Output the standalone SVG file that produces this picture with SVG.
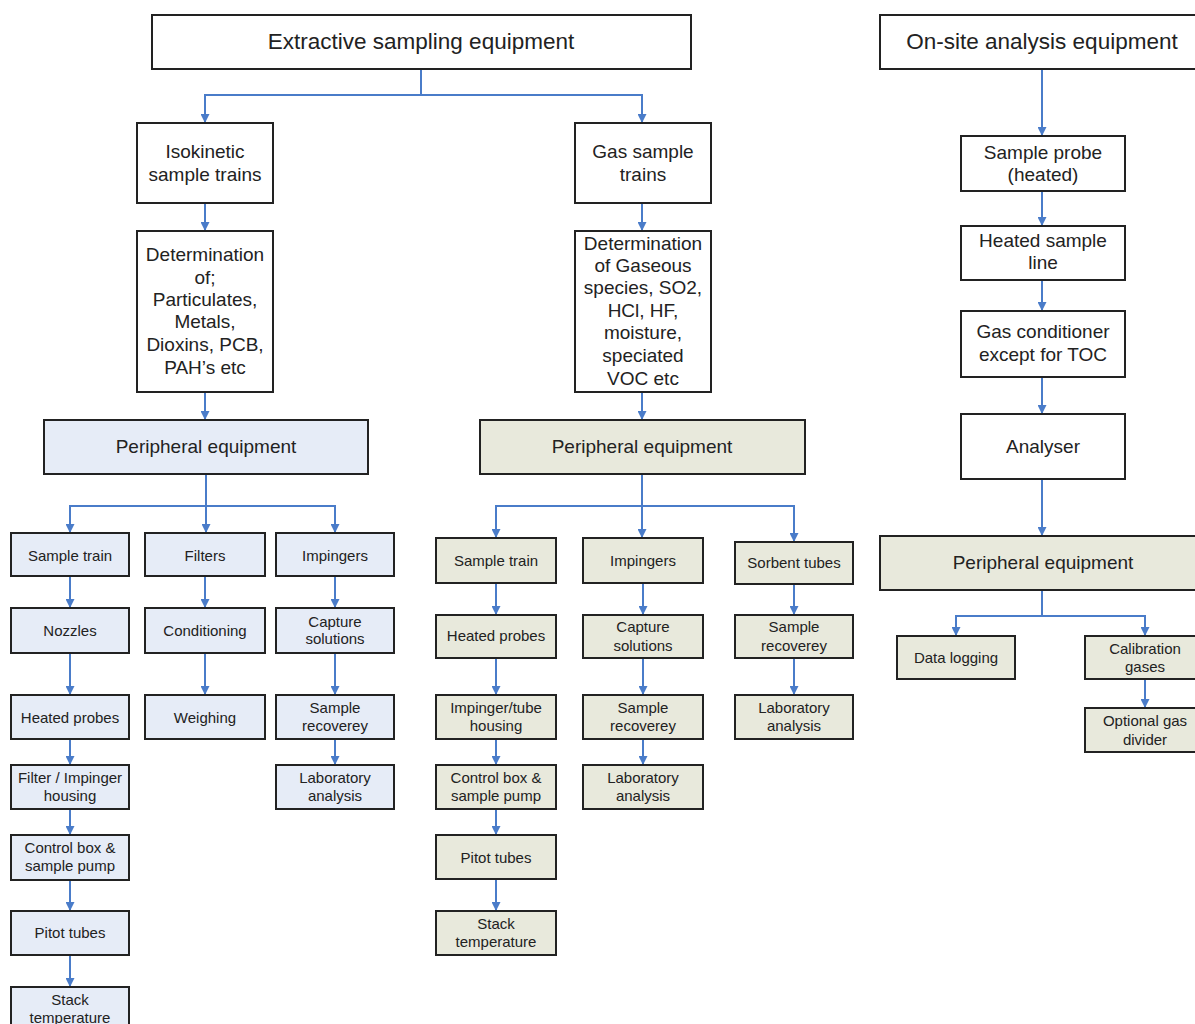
<svg xmlns="http://www.w3.org/2000/svg" width="1195" height="1024" viewBox="0 0 1195 1024">
<defs>
<marker id="arr" viewBox="0 0 10 10" markerWidth="9" markerHeight="9" markerUnits="userSpaceOnUse" refX="10" refY="5" orient="auto">
<path d="M0,0 L10,5 L0,10 z" fill="#4a7cc9"/>
</marker>
</defs>
<style>
rect{stroke:#222;stroke-width:2}
.w{fill:#fff}
.b{fill:#e6ecf7}
.k{fill:#e8e9dc}
text{font-family:"Liberation Sans",Arial,sans-serif;fill:#222;text-anchor:middle;dominant-baseline:central}
.t1{font-size:22.5px}
.t2{font-size:19px}
.t3{font-size:15px}
#connectors path{fill:none;stroke:#4a7cc9;stroke-width:2}
</style>

<g id="connectors">
<path d="M421,69 V95 H205 V123" marker-end="url(#arr)"/>
<path d="M421,95 H642 V123" marker-end="url(#arr)"/>
<path d="M205,203 V231" marker-end="url(#arr)"/>
<path d="M205,392 V420" marker-end="url(#arr)"/>
<path d="M642,203 V231" marker-end="url(#arr)"/>
<path d="M642,392 V420" marker-end="url(#arr)"/>
<path d="M206,474 V533" marker-end="url(#arr)"/>
<path d="M206,506 H70 V533" marker-end="url(#arr)"/>
<path d="M206,506 H335 V533" marker-end="url(#arr)"/>
<path d="M70,576 V608" marker-end="url(#arr)"/>
<path d="M70,653 V695" marker-end="url(#arr)"/>
<path d="M70,739 V765" marker-end="url(#arr)"/>
<path d="M70,809 V835" marker-end="url(#arr)"/>
<path d="M70,880 V911" marker-end="url(#arr)"/>
<path d="M70,955 V987" marker-end="url(#arr)"/>
<path d="M205,576 V608" marker-end="url(#arr)"/>
<path d="M205,653 V695" marker-end="url(#arr)"/>
<path d="M335,576 V608" marker-end="url(#arr)"/>
<path d="M335,653 V695" marker-end="url(#arr)"/>
<path d="M335,739 V765" marker-end="url(#arr)"/>
<path d="M642,474 V538" marker-end="url(#arr)"/>
<path d="M642,506 H496 V538" marker-end="url(#arr)"/>
<path d="M642,506 H794 V542" marker-end="url(#arr)"/>
<path d="M496,583 V615" marker-end="url(#arr)"/>
<path d="M496,658 V695" marker-end="url(#arr)"/>
<path d="M496,739 V765" marker-end="url(#arr)"/>
<path d="M496,809 V835" marker-end="url(#arr)"/>
<path d="M496,879 V911" marker-end="url(#arr)"/>
<path d="M643,583 V615" marker-end="url(#arr)"/>
<path d="M643,658 V695" marker-end="url(#arr)"/>
<path d="M643,739 V765" marker-end="url(#arr)"/>
<path d="M794,584 V615" marker-end="url(#arr)"/>
<path d="M794,658 V695" marker-end="url(#arr)"/>
<path d="M1042,69 V136" marker-end="url(#arr)"/>
<path d="M1042,191 V226" marker-end="url(#arr)"/>
<path d="M1042,280 V311" marker-end="url(#arr)"/>
<path d="M1042,377 V414" marker-end="url(#arr)"/>
<path d="M1042,479 V536" marker-end="url(#arr)"/>
<path d="M1042,590 V616 H956 V636" marker-end="url(#arr)"/>
<path d="M1042,616 H1145 V636" marker-end="url(#arr)"/>
<path d="M1145,679 V708" marker-end="url(#arr)"/>
</g>

<g id="n-extractive"><rect class="w" x="152" y="15" width="539" height="54"/><text class="t1" x="421" y="41">Extractive sampling equipment</text></g>
<g id="n-onsite"><rect class="w" x="880" y="15" width="330" height="54"/><text class="t1" x="1042" y="41">On-site analysis equipment</text></g>

<g id="n-isokinetic"><rect class="w" x="137" y="123" width="136" height="80"/><text class="t2" x="205" y="151">Isokinetic</text><text class="t2" x="205" y="174">sample trains</text></g>
<g id="n-det1"><rect class="w" x="137" y="231" width="136" height="161"/>
<text class="t2" x="205" y="254">Determination</text><text class="t2" x="205" y="277">of;</text><text class="t2" x="205" y="299">Particulates,</text><text class="t2" x="205" y="321">Metals,</text><text class="t2" x="205" y="344">Dioxins, PCB,</text><text class="t2" x="205" y="367">PAH’s etc</text></g>
<g id="n-gastrains"><rect class="w" x="575" y="123" width="136" height="80"/><text class="t2" x="643" y="151">Gas sample</text><text class="t2" x="643" y="174">trains</text></g>
<g id="n-det2"><rect class="w" x="575" y="231" width="136" height="161"/>
<text class="t2" x="643" y="243">Determination</text><text class="t2" x="643" y="265">of Gaseous</text><text class="t2" x="643" y="287">species, SO2,</text><text class="t2" x="643" y="310">HCl, HF,</text><text class="t2" x="643" y="332">moisture,</text><text class="t2" x="643" y="355">speciated</text><text class="t2" x="643" y="378">VOC etc</text></g>

<g id="n-periph1"><rect class="b" x="44" y="420" width="324" height="54"/><text class="t2" x="206" y="446">Peripheral equipment</text></g>
<g id="n-periph2"><rect class="k" x="480" y="420" width="325" height="54"/><text class="t2" x="642" y="446">Peripheral equipment</text></g>

<g id="n-l-sampletrain"><rect class="b" x="11" y="533" width="118" height="43"/><text class="t3" x="70" y="555">Sample train</text></g>
<g id="n-l-filters"><rect class="b" x="145" y="533" width="120" height="43"/><text class="t3" x="205" y="555">Filters</text></g>
<g id="n-l-impingers"><rect class="b" x="276" y="533" width="118" height="43"/><text class="t3" x="335" y="555">Impingers</text></g>
<g id="n-l-nozzles"><rect class="b" x="11" y="608" width="118" height="45"/><text class="t3" x="70" y="630">Nozzles</text></g>
<g id="n-l-conditioning"><rect class="b" x="145" y="608" width="120" height="45"/><text class="t3" x="205" y="630">Conditioning</text></g>
<g id="n-l-capture"><rect class="b" x="276" y="608" width="118" height="45"/><text class="t3" x="335" y="621">Capture</text><text class="t3" x="335" y="638">solutions</text></g>
<g id="n-l-heated"><rect class="b" x="11" y="695" width="118" height="44"/><text class="t3" x="70" y="717">Heated probes</text></g>
<g id="n-l-weighing"><rect class="b" x="145" y="695" width="120" height="44"/><text class="t3" x="205" y="717">Weighing</text></g>
<g id="n-l-recovery"><rect class="b" x="276" y="695" width="118" height="44"/><text class="t3" x="335" y="707">Sample</text><text class="t3" x="335" y="725">recoverey</text></g>
<g id="n-l-housing"><rect class="b" x="11" y="765" width="118" height="44"/><text class="t3" x="70" y="777">Filter / Impinger</text><text class="t3" x="70" y="795">housing</text></g>
<g id="n-l-lab"><rect class="b" x="276" y="765" width="118" height="44"/><text class="t3" x="335" y="777">Laboratory</text><text class="t3" x="335" y="795">analysis</text></g>
<g id="n-l-control"><rect class="b" x="11" y="835" width="118" height="45"/><text class="t3" x="70" y="847">Control box &amp;</text><text class="t3" x="70" y="865">sample pump</text></g>
<g id="n-l-pitot"><rect class="b" x="11" y="911" width="118" height="44"/><text class="t3" x="70" y="932">Pitot tubes</text></g>
<g id="n-l-stack"><rect class="b" x="11" y="987" width="118" height="45"/><text class="t3" x="70" y="999">Stack</text><text class="t3" x="70" y="1017">temperature</text></g>

<g id="n-m-sampletrain"><rect class="k" x="436" y="538" width="120" height="45"/><text class="t3" x="496" y="560">Sample train</text></g>
<g id="n-m-impingers"><rect class="k" x="583" y="538" width="120" height="45"/><text class="t3" x="643" y="560">Impingers</text></g>
<g id="n-m-sorbent"><rect class="k" x="735" y="542" width="118" height="42"/><text class="t3" x="794" y="562">Sorbent tubes</text></g>
<g id="n-m-heated"><rect class="k" x="436" y="615" width="120" height="43"/><text class="t3" x="496" y="635">Heated probes</text></g>
<g id="n-m-capture"><rect class="k" x="583" y="615" width="120" height="43"/><text class="t3" x="643" y="626">Capture</text><text class="t3" x="643" y="645">solutions</text></g>
<g id="n-m-recovery2"><rect class="k" x="735" y="615" width="118" height="43"/><text class="t3" x="794" y="626">Sample</text><text class="t3" x="794" y="645">recoverey</text></g>
<g id="n-m-housing"><rect class="k" x="436" y="695" width="120" height="44"/><text class="t3" x="496" y="707">Impinger/tube</text><text class="t3" x="496" y="725">housing</text></g>
<g id="n-m-recovery"><rect class="k" x="583" y="695" width="120" height="44"/><text class="t3" x="643" y="707">Sample</text><text class="t3" x="643" y="725">recoverey</text></g>
<g id="n-m-lab2"><rect class="k" x="735" y="695" width="118" height="44"/><text class="t3" x="794" y="707">Laboratory</text><text class="t3" x="794" y="725">analysis</text></g>
<g id="n-m-control"><rect class="k" x="436" y="765" width="120" height="44"/><text class="t3" x="496" y="777">Control box &amp;</text><text class="t3" x="496" y="795">sample pump</text></g>
<g id="n-m-lab"><rect class="k" x="583" y="765" width="120" height="44"/><text class="t3" x="643" y="777">Laboratory</text><text class="t3" x="643" y="795">analysis</text></g>
<g id="n-m-pitot"><rect class="k" x="436" y="835" width="120" height="44"/><text class="t3" x="496" y="857">Pitot tubes</text></g>
<g id="n-m-stack"><rect class="k" x="436" y="911" width="120" height="44"/><text class="t3" x="496" y="923">Stack</text><text class="t3" x="496" y="941">temperature</text></g>

<g id="n-r-probe"><rect class="w" x="961" y="136" width="164" height="55"/><text class="t2" x="1043" y="152">Sample probe</text><text class="t2" x="1043" y="174">(heated)</text></g>
<g id="n-r-line"><rect class="w" x="961" y="226" width="164" height="54"/><text class="t2" x="1043" y="240">Heated sample</text><text class="t2" x="1043" y="262">line</text></g>
<g id="n-r-cond"><rect class="w" x="961" y="311" width="164" height="66"/><text class="t2" x="1043" y="331">Gas conditioner</text><text class="t2" x="1043" y="354">except for TOC</text></g>
<g id="n-r-analyser"><rect class="w" x="961" y="414" width="164" height="65"/><text class="t2" x="1043" y="446">Analyser</text></g>
<g id="n-r-periph"><rect class="k" x="880" y="536" width="330" height="54"/><text class="t2" x="1043" y="562">Peripheral equipment</text></g>
<g id="n-r-datalog"><rect class="k" x="897" y="636" width="118" height="43"/><text class="t3" x="956" y="657">Data logging</text></g>
<g id="n-r-calib"><rect class="k" x="1085" y="636" width="120" height="43"/><text class="t3" x="1145" y="648">Calibration</text><text class="t3" x="1145" y="666">gases</text></g>
<g id="n-r-divider"><rect class="k" x="1085" y="708" width="120" height="44"/><text class="t3" x="1145" y="720">Optional gas</text><text class="t3" x="1145" y="739">divider</text></g>
</svg>
